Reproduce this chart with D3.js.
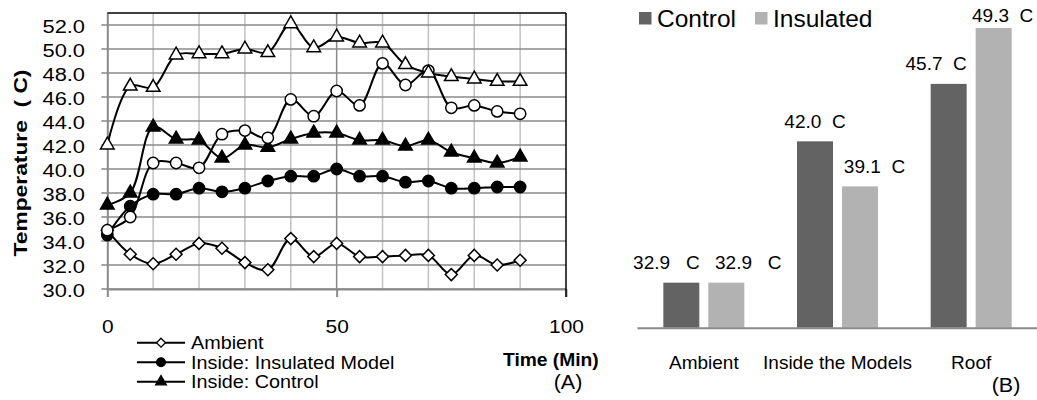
<!DOCTYPE html>
<html>
<head>
<meta charset="utf-8">
<script src="https://cdn.jsdelivr.net/npm/d3@7"></script>
<style>
  body { margin: 0; background: #fff; }
  text { font-family: "Liberation Sans", Arial, sans-serif; fill: #000; }
</style>
</head>
<body>
<svg id="chart" width="1037" height="400"></svg>
<script>
// ---- data, chart A (temperature over time) ----
var minutes = [0, 5, 10, 15, 20, 25, 30, 35, 40, 45, 50, 55, 60, 65, 70, 75, 80, 85, 90];
var ambient = [34.9, 32.9, 32.1, 32.9, 33.8, 33.4, 32.2, 31.6, 34.2, 32.7, 33.8, 32.7, 32.7, 32.8, 32.8, 31.2, 32.8, 32.0, 32.4];
var insideInsulated = [34.5, 36.9, 37.9, 37.9, 38.4, 38.1, 38.4, 39.0, 39.4, 39.4, 40.0, 39.4, 39.4, 38.9, 39.0, 38.4, 38.4, 38.5, 38.5];
var insideControl = [37.0, 38.0, 43.5, 42.5, 42.4, 40.9, 42.0, 41.8, 42.5, 43.0, 43.0, 42.4, 42.4, 41.9, 42.4, 41.4, 40.9, 40.5, 41.0];
var roofOpenCircles = [34.9, 36.0, 40.5, 40.5, 40.1, 42.9, 43.2, 42.6, 45.8, 44.4, 46.5, 45.3, 48.8, 47.0, 48.2, 45.1, 45.3, 44.8, 44.6];
var roofOpenTriangles = [42.0, 46.9, 46.8, 49.5, 49.6, 49.6, 50.0, 49.7, 52.1, 50.1, 51.0, 50.5, 50.5, 48.7, 48.0, 47.7, 47.5, 47.3, 47.3];
var yTicksA = [30, 32, 34, 36, 38, 40, 42, 44, 46, 48, 50, 52];
var xTicksA = [0, 50, 100];
var legendNamesA = ["Ambient", "Inside: Insulated Model", "Inside: Control"];

// ---- data, chart B (averages) ----
var categories = ["Ambient", "Inside the Models", "Roof"];
var groups = ["Control", "Insulated"];
var controlAvg = [32.9, 42.0, 45.7];
var insulatedAvg = [32.9, 39.1, 49.3];

var svg = d3.select("#chart");

// text drawn a bit wider than the stock font, like the original
function placeText(sel, x, y, sx, rot) {
  sel.attr("x", 0).attr("y", 0).attr("dy", null)
     .attr("transform", "translate(" + x + "," + y + ")" + (rot ? " rotate(" + rot + ")" : "") + " scale(" + sx + ",1)");
}

// ================= chart A =================
var xA = d3.scaleLinear().domain([0, 100]).range([107.3, 566]);
var yA = d3.scaleLinear().domain([30, 53]).range([289, 13]);
var gridDark = "#8a8a8a", gridLight = "#c2c2c2";

var gA = svg.append("g");

// vertical grid every 10 min
gA.append("g").selectAll("line")
  .data(d3.range(10, 100, 10))
  .join("line")
  .attr("x1", d => xA(d)).attr("x2", d => xA(d))
  .attr("y1", yA(53)).attr("y2", yA(30))
  .attr("stroke", d => d % 50 === 0 ? gridDark : gridLight)
  .attr("stroke-width", 1.5);

// horizontal grid, sticking out left as ticks
gA.append("g").selectAll("line")
  .data(yTicksA)
  .join("line")
  .attr("x1", xA(0) - 6).attr("x2", xA(100))
  .attr("y1", d => yA(d)).attr("y2", d => yA(d))
  .attr("stroke", gridDark)
  .attr("stroke-width", 1.5);

// axes
var axisY = gA.append("g")
  .attr("transform", "translate(" + xA(0) + ",0)")
  .call(d3.axisLeft(yA).tickValues(yTicksA).tickSize(0).tickSizeOuter(0).tickFormat(d3.format(".1f")));
axisY.select(".domain").attr("stroke", gridDark).attr("stroke-width", 2);
axisY.selectAll("text")
  .attr("font-size", 18.5)
  .attr("text-anchor", "end")
  .each(function () { placeText(d3.select(this), -22.3, 7.5, 1.18); });

var axisX = gA.append("g")
  .attr("transform", "translate(0," + yA(30) + ")")
  .call(d3.axisBottom(xA).tickValues(xTicksA).tickSize(8).tickSizeOuter(0).tickFormat(d3.format("d")));
axisX.select(".domain").attr("stroke", gridDark).attr("stroke-width", 2);
axisX.selectAll(".tick line").attr("stroke", gridDark).attr("stroke-width", 2);
axisX.selectAll("text")
  .attr("font-size", 19)
  .attr("text-anchor", "middle")
  .each(function () { placeText(d3.select(this), 0, 44, 1.1); });

// top and right frame
gA.append("line").attr("x1", xA(0)).attr("x2", xA(100)).attr("y1", yA(53)).attr("y2", yA(53))
  .attr("stroke", "#000").attr("stroke-width", 1.5);
gA.append("line").attr("x1", xA(100)).attr("x2", xA(100)).attr("y1", yA(53)).attr("y2", yA(30) + 8)
  .attr("stroke", "#000").attr("stroke-width", 1.5);

// series
var seriesA = [
  { values: ambient, shape: "diamond", fill: "#fff" },
  { values: insideInsulated, shape: "circle", fill: "#000" },
  { values: insideControl, shape: "triangle", fill: "#000" },
  { values: roofOpenCircles, shape: "circle", fill: "#fff" },
  { values: roofOpenTriangles, shape: "triangle", fill: "#fff" }
];

function markerPath(shape, big) {
  if (shape === "diamond") return d3.symbol(d3.symbolSquare, big ? 72 : 40)();
  if (shape === "circle") return d3.symbol(d3.symbolCircle, big ? 100 : 60)();
  return d3.symbol(d3.symbolTriangle, big ? 80 : 50)();
}

var line = d3.line()
  .x((d, i) => xA(minutes[i]))
  .y(d => yA(d))
  .curve(d3.curveCatmullRom.alpha(0.5));

seriesA.forEach(function (s) {
  var g = gA.append("g");
  g.append("path")
    .attr("d", line(s.values))
    .attr("fill", "none")
    .attr("stroke", "#000")
    .attr("stroke-width", 2);
  g.selectAll("path.mk")
    .data(s.values)
    .join("path")
    .attr("class", "mk")
    .attr("d", markerPath(s.shape, true))
    .attr("transform", (d, i) => "translate(" + xA(minutes[i]) + "," + yA(d) + ")" + (s.shape === "diamond" ? " rotate(45)" : ""))
    .attr("fill", s.fill)
    .attr("stroke", "#000")
    .attr("stroke-width", 1.5);
});

// axis titles
svg.append("text")
  .text("Temperature  ( C)")
  .attr("font-size", 19)
  .attr("font-weight", "bold")
  .attr("text-anchor", "middle")
  .style("white-space", "pre")
  .call(placeText, 27, 163, 1.2, -90);

svg.append("text")
  .text("Time (Min)")
  .attr("font-size", 18.5)
  .attr("font-weight", "bold")
  .call(placeText, 503, 366, 1.04);

svg.append("text")
  .text("(A)")
  .attr("font-size", 19.5)
  .attr("text-anchor", "middle")
  .call(placeText, 568, 389, 1.1);

// legend A
var legA = svg.append("g").selectAll("g")
  .data(legendNamesA)
  .join("g")
  .attr("transform", (d, i) => "translate(0," + (342.7 + i * 19.5) + ")");
legA.append("line").attr("x1", 137).attr("x2", 185).attr("stroke", "#000").attr("stroke-width", 2);
legA.append("path")
  .attr("d", (d, i) => markerPath(seriesA[i].shape, false))
  .attr("transform", (d, i) => "translate(161,0)" + (seriesA[i].shape === "diamond" ? " rotate(45)" : ""))
  .attr("fill", (d, i) => seriesA[i].fill)
  .attr("stroke", "#000")
  .attr("stroke-width", 1.3);
legA.append("text")
  .text(d => d)
  .attr("font-size", 18)
  .each(function () { placeText(d3.select(this), 191, 6.5, 1.1); });

// ================= chart B =================
var colorB = { Control: "#636363", Insulated: "#b2b2b2" };
var xB = d3.scaleBand().domain(categories).range([637, 1038]).paddingInner(0.394).paddingOuter(0.197);
var xB2 = d3.scaleBand().domain(groups).range([0, xB.bandwidth()]).paddingInner(0.2);
var yB = d3.scaleLinear().domain([30, 50]).range([327.7, 17.1]);

var rowsB = categories.map((c, i) => ({ category: c, Control: controlAvg[i], Insulated: insulatedAvg[i] }));
// hand-placed label nudges (px) as in the original figure
var labelShift = { Control: [-15, 0, -12.5], Insulated: [22, 14.5, 9] };

var gB = svg.append("g");
var cat = gB.selectAll("g.cat")
  .data(rowsB)
  .join("g")
  .attr("class", "cat")
  .attr("transform", d => "translate(" + xB(d.category) + ",0)");

cat.selectAll("rect")
  .data(d => groups.map(k => ({ key: k, value: d[k] })))
  .join("rect")
  .attr("x", d => xB2(d.key))
  .attr("width", xB2.bandwidth())
  .attr("y", d => yB(d.value))
  .attr("height", d => yB(30) - yB(d.value))
  .attr("fill", d => colorB[d.key]);

cat.selectAll("text.lbl")
  .data((d, ci) => groups.map(k => ({ key: k, value: d[k], ci: ci })))
  .join("text")
  .attr("class", "lbl")
  .attr("font-size", 19)
  .attr("text-anchor", "middle")
  .style("white-space", "pre")
  .attr("x", d => xB2(d.key) + xB2.bandwidth() / 2 + labelShift[d.key][d.ci])
  .attr("y", d => Math.max(yB(d.value) - 13.5, 21.5))
  .text(d => d3.format(".1f")(d.value) + (d.ci === 0 ? "   C" : "  C"));

var axisB = gB.append("g")
  .attr("transform", "translate(0," + yB(30) + ")")
  .call(d3.axisBottom(xB).tickSize(0).tickSizeOuter(0));
axisB.select(".domain").attr("stroke", "#898989").attr("stroke-width", 2);
axisB.selectAll("text")
  .attr("font-size", 19)
  .attr("text-anchor", "middle")
  .each(function () { placeText(d3.select(this), 0, 41.3, 1); });

// legend B
var legB = svg.append("g").selectAll("g")
  .data(groups)
  .join("g")
  .attr("transform", (d, i) => "translate(" + [639, 755][i] + ",0)");
legB.append("rect").attr("y", 12).attr("width", 12.5).attr("height", 12.5).attr("fill", d => colorB[d]);
legB.append("text").attr("x", 18).attr("y", 26.7).attr("font-size", 24.5).text(d => d);

svg.append("text")
  .text("(B)")
  .attr("font-size", 19.5)
  .attr("text-anchor", "middle")
  .call(placeText, 1006, 392, 1.1);
</script>
</body>
</html>
